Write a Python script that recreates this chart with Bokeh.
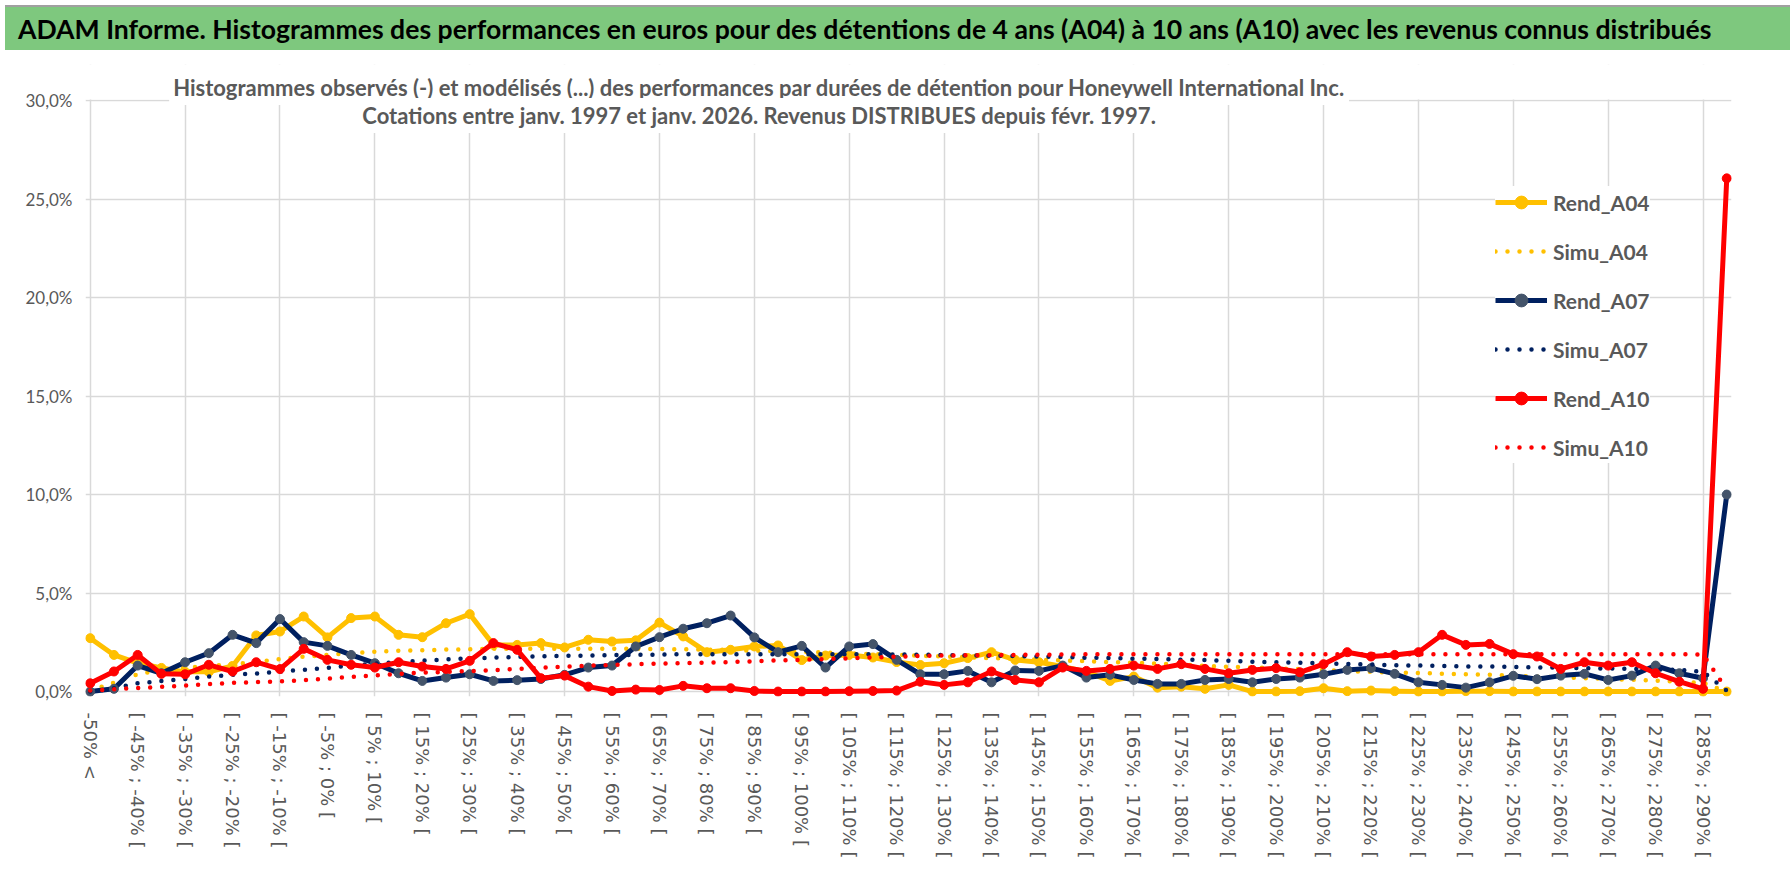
from bokeh.plotting import figure
from bokeh.models import Range1d, FixedTicker, Legend, LegendItem, Label, BoxAnnotation, Div
from bokeh.layouts import column
from bokeh.embed import file_html
from bokeh.resources import INLINE

categories = [
    "-50% <",
    "[ -50% ; -45% [", "[ -45% ; -40% [", "[ -40% ; -35% [", "[ -35% ; -30% [",
    "[ -30% ; -25% [", "[ -25% ; -20% [", "[ -20% ; -15% [", "[ -15% ; -10% [",
    "[ -10% ; -5% [", "[ -5% ; 0% [", "[ 0% ; 5% [", "[ 5% ; 10% [",
    "[ 10% ; 15% [", "[ 15% ; 20% [", "[ 20% ; 25% [", "[ 25% ; 30% [",
    "[ 30% ; 35% [", "[ 35% ; 40% [", "[ 40% ; 45% [", "[ 45% ; 50% [",
    "[ 50% ; 55% [", "[ 55% ; 60% [", "[ 60% ; 65% [", "[ 65% ; 70% [",
    "[ 70% ; 75% [", "[ 75% ; 80% [", "[ 80% ; 85% [", "[ 85% ; 90% [",
    "[ 90% ; 95% [", "[ 95% ; 100% [", "[ 100% ; 105% [", "[ 105% ; 110% [",
    "[ 110% ; 115% [", "[ 115% ; 120% [", "[ 120% ; 125% [", "[ 125% ; 130% [",
    "[ 130% ; 135% [", "[ 135% ; 140% [", "[ 140% ; 145% [", "[ 145% ; 150% [",
    "[ 150% ; 155% [", "[ 155% ; 160% [", "[ 160% ; 165% [", "[ 165% ; 170% [",
    "[ 170% ; 175% [", "[ 175% ; 180% [", "[ 180% ; 185% [", "[ 185% ; 190% [",
    "[ 190% ; 195% [", "[ 195% ; 200% [", "[ 200% ; 205% [", "[ 205% ; 210% [",
    "[ 210% ; 215% [", "[ 215% ; 220% [", "[ 220% ; 225% [", "[ 225% ; 230% [",
    "[ 230% ; 235% [", "[ 235% ; 240% [", "[ 240% ; 245% [", "[ 245% ; 250% [",
    "[ 250% ; 255% [", "[ 255% ; 260% [", "[ 260% ; 265% [", "[ 265% ; 270% [",
    "[ 270% ; 275% [", "[ 275% ; 280% [", "[ 280% ; 285% [", "[ 285% ; 290% [",
    "> 290%",
]

# values in percent
rend_a04 = [2.71, 1.86, 1.45, 1.2, 1.0, 1.0, 1.3, 2.85, 3.05, 3.81,
            2.75, 3.73, 3.81, 2.88, 2.76, 3.47, 3.93, 2.37, 2.37, 2.46,
            2.24, 2.63, 2.54, 2.6, 3.5, 2.8, 2.0, 2.12, 2.29, 2.34,
            1.6, 1.83, 1.86, 1.73, 1.5, 1.35, 1.44, 1.7, 2.0, 1.61,
            1.49, 1.27, 1.0, 0.54, 0.76, 0.2, 0.25, 0.14, 0.34, 0.0,
            0.0, 0.02, 0.17, 0.02, 0.05, 0.02, 0.0, 0.0, 0.02, 0.02,
            0.0, 0.0, 0.0, 0.0, 0.0, 0.0, 0.0, 0.0, 0.0, 0.0]
simu_a04 = [0.05, 0.45, 0.88, 1.1, 1.2, 1.3, 1.4, 1.5, 1.65, 1.77,
            1.86, 1.95, 2.02, 2.07, 2.1, 2.13, 2.15, 2.17, 2.18, 2.18,
            2.18, 2.18, 2.17, 2.17, 2.16, 2.15, 2.13, 2.11, 2.08, 2.05,
            2.02, 1.98, 1.94, 1.9, 1.86, 1.82, 1.78, 1.74, 1.7, 1.66,
            1.62, 1.58, 1.54, 1.5, 1.46, 1.42, 1.37, 1.3, 1.26, 1.22,
            1.18, 1.14, 1.1, 1.04, 1.0, 0.97, 0.94, 0.91, 0.88, 0.85,
            0.8, 0.76, 0.72, 0.68, 0.64, 0.6, 0.56, 0.5, 0.44, 0.0]
rend_a07 = [0.0, 0.14, 1.32, 0.93, 1.49, 1.95, 2.88, 2.46, 3.68, 2.51,
            2.32, 1.86, 1.44, 0.93, 0.54, 0.71, 0.88, 0.54, 0.58, 0.64,
            0.85, 1.22, 1.32, 2.29, 2.76, 3.19, 3.47, 3.86, 2.75, 2.0,
            2.32, 1.22, 2.29, 2.41, 1.61, 0.88, 0.88, 1.05, 0.47, 1.07,
            1.05, 1.32, 0.71, 0.85, 0.59, 0.39, 0.39, 0.59, 0.64, 0.47,
            0.64, 0.71, 0.88, 1.1, 1.19, 0.9, 0.47, 0.34, 0.2, 0.47,
            0.8, 0.63, 0.81, 0.9, 0.59, 0.81, 1.32, 0.93, 0.68, 10.0]
simu_a07 = [0.0, 0.17, 0.42, 0.54, 0.64, 0.76, 0.85, 0.92, 1.02, 1.1,
            1.2, 1.32, 1.42, 1.5, 1.57, 1.63, 1.68, 1.72, 1.76, 1.79,
            1.81, 1.83, 1.85, 1.86, 1.88, 1.9, 1.9, 1.9, 1.9, 1.9,
            1.9, 1.9, 1.9, 1.9, 1.88, 1.87, 1.85, 1.83, 1.82, 1.8,
            1.78, 1.75, 1.72, 1.7, 1.67, 1.65, 1.62, 1.6, 1.56, 1.52,
            1.49, 1.46, 1.43, 1.4, 1.37, 1.34, 1.32, 1.3, 1.28, 1.27,
            1.25, 1.23, 1.21, 1.19, 1.17, 1.15, 1.12, 1.1, 1.0, 0.05]
rend_a10 = [0.42, 1.02, 1.86, 0.9, 0.88, 1.36, 1.02, 1.49, 1.14, 2.17,
            1.61, 1.36, 1.22, 1.49, 1.27, 1.15, 1.56, 2.46, 2.12, 0.68,
            0.81, 0.25, 0.03, 0.1, 0.08, 0.29, 0.17, 0.17, 0.03, 0.0,
            0.0, 0.0, 0.02, 0.03, 0.05, 0.5, 0.34, 0.47, 1.02, 0.59,
            0.47, 1.22, 1.05, 1.15, 1.32, 1.15, 1.39, 1.15, 0.93, 1.1,
            1.19, 0.98, 1.39, 2.0, 1.78, 1.86, 2.0, 2.88, 2.37, 2.42,
            1.9, 1.78, 1.15, 1.49, 1.32, 1.49, 0.93, 0.5, 0.14, 26.05]
simu_a10 = [0.05, 0.12, 0.18, 0.24, 0.3, 0.38, 0.44, 0.48, 0.52, 0.58,
            0.65, 0.75, 0.82, 0.9, 0.96, 1.0, 1.04, 1.09, 1.15, 1.21,
            1.27, 1.31, 1.35, 1.39, 1.42, 1.44, 1.47, 1.5, 1.54, 1.58,
            1.61, 1.65, 1.69, 1.73, 1.77, 1.81, 1.83, 1.84, 1.85, 1.86,
            1.87, 1.88, 1.89, 1.9, 1.9, 1.9, 1.9, 1.9, 1.9, 1.9,
            1.9, 1.9, 1.9, 1.9, 1.9, 1.9, 1.9, 1.9, 1.9, 1.9,
            1.9, 1.9, 1.9, 1.9, 1.9, 1.9, 1.9, 1.9, 1.88, 0.1]

y_ticks = [0, 5, 10, 15, 20, 25, 30]
y_tick_labels = ["0,0%", "5,0%", "10,0%", "15,0%", "20,0%", "25,0%", "30,0%"]
series_names = ["Rend_A04", "Simu_A04", "Rend_A07", "Simu_A07", "Rend_A10", "Simu_A10"]

title_text = ("ADAM Informe. Histogrammes des performances en euros pour des détentions "
              "de 4 ans (A04) à 10 ans (A10) avec les revenus connus distribués")
subtitle_lines = [
    "Histogrammes observés (-) et modélisés (...) des performances par durées de détention pour Honeywell International Inc.",
    "Cotations entre janv. 1997 et janv. 2026. Revenus DISTRIBUES depuis févr. 1997.",
]

FONT = "Lato"
YEL = "#ffc000"
NAVY = "#002060"
NAVY_MK = "#44546a"
RED = "#ff0000"
GRID = "#d9d9d9"
TXT = "#595959"

W = 1790

# ---------- banner ----------
banner = Div(text=title_text, width=W, height=45,
             styles={"background-color": "#7ec87e", "border-top": "2px solid #a0a0a0",
                     "box-sizing": "border-box", "font-family": FONT, "font-weight": "bold",
                     "font-size": "26.6px", "color": "#000000", "padding-left": "13px",
                     "line-height": "44px", "white-space": "nowrap", "overflow": "hidden"})

# ---------- main chart ----------
x = list(range(len(categories)))

p = figure(width=W, height=832,
           x_range=Range1d(-0.2, len(categories) - 1 + 0.2), y_range=Range1d(-0.25, 31.83),
           toolbar_location=None, output_backend="svg",
           min_border_left=85, min_border_right=59, min_border_top=9, min_border_bottom=191,
           background_fill_color="white", border_fill_color="white", outline_line_color=None)
p.styles = {"outline": "1.5px solid #c8c8c8", "outline-offset": "-2px"}

p.yaxis.ticker = FixedTicker(ticks=y_ticks)
p.yaxis.major_label_overrides = {t: l for t, l in zip(y_ticks, y_tick_labels)}
p.yaxis.axis_line_color = None
p.yaxis.major_tick_line_color = None
p.yaxis.minor_tick_line_color = None
p.yaxis.major_tick_out = 0
p.yaxis.minor_tick_out = 0
p.yaxis.major_label_standoff = 13
p.yaxis.major_label_text_font = FONT
p.yaxis.major_label_text_font_size = "17px"
p.yaxis.major_label_text_color = TXT

p.xaxis.ticker = FixedTicker(ticks=x[::2])
p.xaxis.major_label_overrides = {i: categories[i] for i in x[::2]}
p.xaxis.major_label_orientation = "vertical"
p.xaxis.axis_line_color = None
p.xaxis.major_tick_line_color = None
p.xaxis.minor_tick_line_color = None
p.xaxis.major_tick_out = 0
p.xaxis.minor_tick_out = 0
p.xaxis.major_label_standoff = 16
p.xaxis.major_label_text_font = "DejaVu Sans"
p.xaxis.major_label_text_font_size = "18px"
p.xaxis.major_label_text_color = TXT

p.xgrid.ticker = FixedTicker(ticks=x[::4])
p.xgrid.grid_line_color = GRID
p.xgrid.grid_line_width = 1.5
p.ygrid.grid_line_color = GRID
p.ygrid.grid_line_width = 1.5

def rend(vals, color, mk):
    l = p.line(x, vals, line_color=color, line_width=5, line_join="round")
    s = p.scatter(x, vals, size=9, fill_color=mk, line_color=mk)
    return [l, s]

def simu(vals, color):
    l = p.line(x, vals, line_color=color, line_width=4.5, line_dash="0 12", line_cap="round")
    return [l]

groups = [
    rend(rend_a04, YEL, YEL),
    simu(simu_a04, YEL),
    rend(rend_a07, NAVY, NAVY_MK),
    simu(simu_a07, NAVY),
    rend(rend_a10, RED, RED),
    simu(simu_a10, RED),
]

# white band above the 30 % line (chart title area)
p.add_layout(BoxAnnotation(bottom=30.05, fill_color="white", fill_alpha=1, line_color=None))

legend = Legend(items=[LegendItem(label=n, renderers=g) for n, g in zip(series_names, groups)],
                location=(1410, 233), orientation="vertical",
                glyph_width=52, glyph_height=32, label_height=32, spacing=17,
                padding=10, margin=0, label_standoff=6,
                border_line_color=None, background_fill_color="white", background_fill_alpha=1,
                label_text_font=FONT, label_text_font_style="bold",
                label_text_font_size="21px", label_text_color=TXT)
p.add_layout(legend)

sub_x = 28.2
for txt, yy in zip(subtitle_lines, [30.66, 29.24]):
    p.add_layout(Label(x=sub_x, y=yy, text=txt, text_align="center", text_baseline="middle",
                       text_font=FONT, text_font_style="bold", text_font_size="22px",
                       text_color=TXT, background_fill_color="white", padding=4))

layout = column(banner, p, spacing=0)
open("out.html", "w").write(file_html(layout, INLINE))
